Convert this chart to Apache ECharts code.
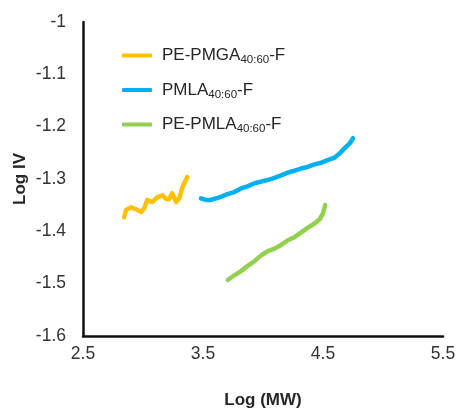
<!DOCTYPE html>
<html>
<head>
<meta charset="utf-8">
<script src="https://cdn.jsdelivr.net/npm/echarts@6/dist/echarts.min.js"></script>
<style>
html,body{margin:0;padding:0;background:#fff;}
#chart{width:457px;height:409px;}
</style>
</head>
<body>
<div id="chart"></div>
<script>
var seriesNames = ['PE-PMGA40:60-F', 'PMLA40:60-F', 'PE-PMLA40:60-F'];
var legendLabels = [
  ['PE-PMGA', '40:60', '-F'],
  ['PMLA', '40:60', '-F'],
  ['PE-PMLA', '40:60', '-F']
];
var seriesColors = ['#FFC000', '#00B0F0', '#92D050'];

var xTicks = [2.5, 3.5, 4.5, 5.5];
var yTicks = [-1.6, -1.5, -1.4, -1.3, -1.2, -1.1, -1];

var xOrange = [2.843, 2.859, 2.901, 2.943, 2.985, 3.010, 3.035, 3.076, 3.118, 3.160, 3.193, 3.218, 3.244, 3.277, 3.302, 3.327, 3.344, 3.369];
var yOrange = [-1.373, -1.359, -1.354, -1.358, -1.363, -1.356, -1.340, -1.344, -1.335, -1.331, -1.338, -1.338, -1.327, -1.344, -1.337, -1.317, -1.308, -1.296];

var xBlue = [3.483, 3.524, 3.566, 3.608, 3.650, 3.703, 3.761, 3.817, 3.870, 3.929, 3.984, 4.037, 4.096, 4.151, 4.204, 4.263, 4.318, 4.371, 4.430, 4.485, 4.538, 4.597, 4.639, 4.681, 4.722, 4.750];
var yBlue = [-1.337, -1.340, -1.340, -1.337, -1.334, -1.329, -1.325, -1.318, -1.314, -1.308, -1.305, -1.302, -1.298, -1.293, -1.288, -1.284, -1.280, -1.277, -1.272, -1.269, -1.264, -1.259, -1.251, -1.241, -1.232, -1.222];

var xGreen = [3.706, 3.761, 3.817, 3.873, 3.929, 3.984, 4.040, 4.096, 4.151, 4.207, 4.263, 4.318, 4.374, 4.430, 4.472, 4.499, 4.518];
var yGreen = [-1.493, -1.484, -1.476, -1.466, -1.457, -1.446, -1.438, -1.433, -1.426, -1.417, -1.411, -1.402, -1.393, -1.385, -1.377, -1.366, -1.350];

function zip(xs, ys) { return xs.map(function (x, i) { return [x, ys[i]]; }); }
var allData = [zip(xOrange, yOrange), zip(xBlue, yBlue), zip(xGreen, yGreen)];

var FONT = '"Liberation Sans", Arial, sans-serif';
var chart = echarts.init(document.getElementById('chart'), null, {renderer: 'canvas'});

var option = {
  animation: false,
  backgroundColor: '#fff',
  grid: {left: 83, right: 14, top: 22, bottom: 73, containLabel: false, outerBoundsMode: 'none'},
  legend: {
    orient: 'vertical',
    left: 122,
    top: 45,
    padding: 0,
    itemWidth: 30,
    itemHeight: 4,
    itemGap: 13.5,
    itemTextGap: 5,
    icon: 'roundRect',
    data: seriesNames,
    formatter: function (name) {
      var l = legendLabels[seriesNames.indexOf(name)];
      return '{a|' + l[0] + '}{s|' + l[1] + '}{a|' + l[2] + '}';
    },
    textStyle: {
      fontFamily: FONT,
      color: '#262626',
      padding: [0, 0, 0, 5],
      rich: {
        a: {fontFamily: FONT, fontSize: 17, lineHeight: 21, color: '#262626'},
        s: {fontFamily: FONT, fontSize: 11.5, lineHeight: 12, padding: [9, 0, 0, 0], color: '#262626'}
      }
    }
  },
  xAxis: {
    type: 'value',
    min: xTicks[0],
    max: xTicks[xTicks.length - 1],
    interval: 1,
    name: 'Log (MW)',
    nameLocation: 'middle',
    nameGap: 56,
    nameMoveOverlap: false,
    nameTextStyle: {fontFamily: FONT, fontSize: 17, fontWeight: 'bold', color: '#262626'},
    axisLine: {show: true, onZero: false, lineStyle: {color: '#111', width: 2.5}},
    axisTick: {show: false},
    splitLine: {show: false},
    axisLabel: {fontFamily: FONT, fontSize: 17.5, color: '#333', margin: 9,
      formatter: function (v) { return v.toFixed(1); }}
  },
  yAxis: {
    type: 'value',
    min: yTicks[0],
    max: yTicks[yTicks.length - 1],
    interval: 0.1,
    name: 'Log IV',
    nameLocation: 'middle',
    nameGap: 54,
    nameMoveOverlap: false,
    nameTextStyle: {fontFamily: FONT, fontSize: 17, fontWeight: 'bold', color: '#262626'},
    axisLine: {show: true, onZero: false, lineStyle: {color: '#111', width: 2.5}},
    axisTick: {show: false},
    splitLine: {show: false},
    axisLabel: {fontFamily: FONT, fontSize: 17.5, color: '#333', margin: 17,
      formatter: function (v) { var r = Math.round(v * 10) / 10; return r === -1 ? '-1' : r.toFixed(1); }}
  },
  series: seriesNames.map(function (n, i) {
    return {
      name: n,
      type: 'line',
      data: allData[i],
      showSymbol: false,
      symbol: 'none',
      smooth: false,
      color: seriesColors[i],
      lineStyle: {color: seriesColors[i], width: 4.5, cap: 'round', join: 'round'}
    };
  })
};
chart.setOption(option);
</script>
</body>
</html>
